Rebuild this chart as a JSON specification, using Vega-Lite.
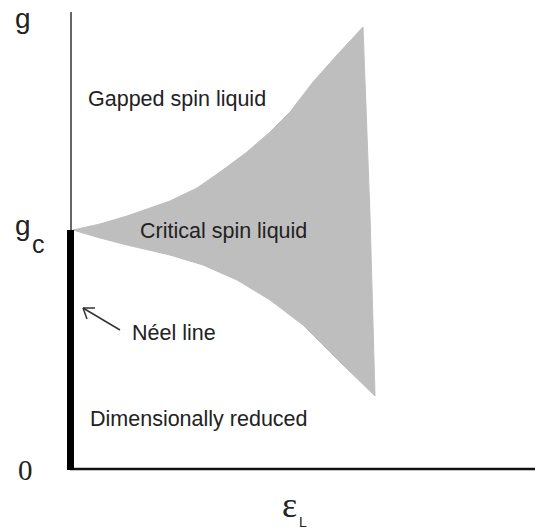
{
  "$schema": "https://vega.github.io/schema/vega-lite/v6.json",
  "autosize": {"type": "none"},
  "padding": {"left": 70, "top": 0, "right": 0, "bottom": 61},
  "width": 465,
  "height": 468,
  "background": "white",
  "config": {"view": {"stroke": null}},
  "layer": [
    {
      "data": {"values": [
        {"o": 0, "x": 3, "y": 238},
        {"o": 1, "x": 30, "y": 244},
        {"o": 2, "x": 57, "y": 252},
        {"o": 3, "x": 100, "y": 267},
        {"o": 4, "x": 127, "y": 280},
        {"o": 5, "x": 150, "y": 296},
        {"o": 6, "x": 177, "y": 316},
        {"o": 7, "x": 200, "y": 336},
        {"o": 8, "x": 220, "y": 356},
        {"o": 9, "x": 243, "y": 386},
        {"o": 10, "x": 267, "y": 413},
        {"o": 11, "x": 293, "y": 441},
        {"o": 12, "x": 300, "y": 253},
        {"o": 13, "x": 305, "y": 72},
        {"o": 14, "x": 270, "y": 106},
        {"o": 15, "x": 233, "y": 143},
        {"o": 16, "x": 200, "y": 168},
        {"o": 17, "x": 167, "y": 188},
        {"o": 18, "x": 133, "y": 203},
        {"o": 19, "x": 100, "y": 213},
        {"o": 20, "x": 57, "y": 223},
        {"o": 21, "x": 30, "y": 230},
        {"o": 22, "x": 3, "y": 238}
      ]},
      "mark": {"type": "line", "fill": "#bebebe", "stroke": "#bebebe", "strokeWidth": 1, "interpolate": "linear"},
      "encoding": {
        "x": {"field": "x", "type": "quantitative", "scale": {"domain": [0, 465], "nice": false, "zero": false}, "axis": null},
        "y": {"field": "y", "type": "quantitative", "scale": {"domain": [0, 468], "nice": false, "zero": false}, "axis": null},
        "order": {"field": "o", "type": "quantitative"}
      }
    },
    {
      "data": {"values": [{"x": 1, "y": 0, "x2": 1, "y2": 456}]},
      "mark": {"type": "rule", "stroke": "#333333", "strokeWidth": 1.5},
      "encoding": {
        "x": {"field": "x", "type": "quantitative"},
        "y": {"field": "y", "type": "quantitative"},
        "x2": {"field": "x2"},
        "y2": {"field": "y2"}
      }
    },
    {
      "data": {"values": [{"x": 0, "y": -1, "x2": 465, "y2": -1}]},
      "mark": {"type": "rule", "stroke": "#111111", "strokeWidth": 2.5},
      "encoding": {
        "x": {"field": "x", "type": "quantitative"},
        "y": {"field": "y", "type": "quantitative"},
        "x2": {"field": "x2"},
        "y2": {"field": "y2"}
      }
    },
    {
      "data": {"values": [{"x": 0.5, "y": -2, "x2": 0.5, "y2": 238}]},
      "mark": {"type": "rule", "stroke": "#000000", "strokeWidth": 7},
      "encoding": {
        "x": {"field": "x", "type": "quantitative"},
        "y": {"field": "y", "type": "quantitative"},
        "x2": {"field": "x2"},
        "y2": {"field": "y2"}
      }
    },
    {
      "data": {"values": [
        {"x": 50, "y": 138, "x2": 13, "y2": 160},
        {"x": 13, "y": 160, "x2": 25, "y2": 160},
        {"x": 13, "y": 160, "x2": 17, "y2": 149}
      ]},
      "mark": {"type": "rule", "stroke": "#333333", "strokeWidth": 1.5},
      "encoding": {
        "x": {"field": "x", "type": "quantitative"},
        "y": {"field": "y", "type": "quantitative"},
        "x2": {"field": "x2"},
        "y2": {"field": "y2"}
      }
    },
    {
      "data": {"values": [
        {"t": "Gapped spin liquid", "x": 18, "y": 362},
        {"t": "Critical spin liquid", "x": 70, "y": 230},
        {"t": "Néel line", "x": 62, "y": 128},
        {"t": "Dimensionally reduced", "x": 20, "y": 42}
      ]},
      "mark": {"type": "text", "align": "left", "baseline": "alphabetic", "font": "Liberation Sans", "fontSize": 21.5, "fill": "#222222"},
      "encoding": {
        "x": {"field": "x", "type": "quantitative"},
        "y": {"field": "y", "type": "quantitative"},
        "text": {"field": "t"}
      }
    },
    {
      "data": {"values": [
        {"t": "g", "x": -55, "y": 440},
        {"t": "g", "x": -55, "y": 233}
      ]},
      "mark": {"type": "text", "align": "left", "baseline": "alphabetic", "font": "Liberation Sans", "fontSize": 28, "fill": "#222222"},
      "encoding": {
        "x": {"field": "x", "type": "quantitative"},
        "y": {"field": "y", "type": "quantitative"},
        "text": {"field": "t"}
      }
    },
    {
      "data": {"values": [{"t": "c", "x": -38, "y": 215}]},
      "mark": {"type": "text", "align": "left", "baseline": "alphabetic", "font": "Liberation Sans", "fontSize": 25, "fill": "#222222"},
      "encoding": {
        "x": {"field": "x", "type": "quantitative"},
        "y": {"field": "y", "type": "quantitative"},
        "text": {"field": "t"}
      }
    },
    {
      "data": {"values": [{"t": "0", "x": -52, "y": -12}]},
      "mark": {"type": "text", "align": "left", "baseline": "alphabetic", "font": "Liberation Serif", "fontSize": 29, "fill": "#222222"},
      "encoding": {
        "x": {"field": "x", "type": "quantitative"},
        "y": {"field": "y", "type": "quantitative"},
        "text": {"field": "t"}
      }
    },
    {
      "data": {"values": [{"t": "ε", "x": 212, "y": -49}]},
      "mark": {"type": "text", "align": "left", "baseline": "alphabetic", "font": "Liberation Serif", "fontSize": 36, "fill": "#222222"},
      "encoding": {
        "x": {"field": "x", "type": "quantitative"},
        "y": {"field": "y", "type": "quantitative"},
        "text": {"field": "t"}
      }
    },
    {
      "data": {"values": [{"t": "L", "x": 229, "y": -59}]},
      "mark": {"type": "text", "align": "left", "baseline": "alphabetic", "font": "Liberation Sans", "fontSize": 14, "fill": "#222222"},
      "encoding": {
        "x": {"field": "x", "type": "quantitative"},
        "y": {"field": "y", "type": "quantitative"},
        "text": {"field": "t"}
      }
    }
  ]
}
